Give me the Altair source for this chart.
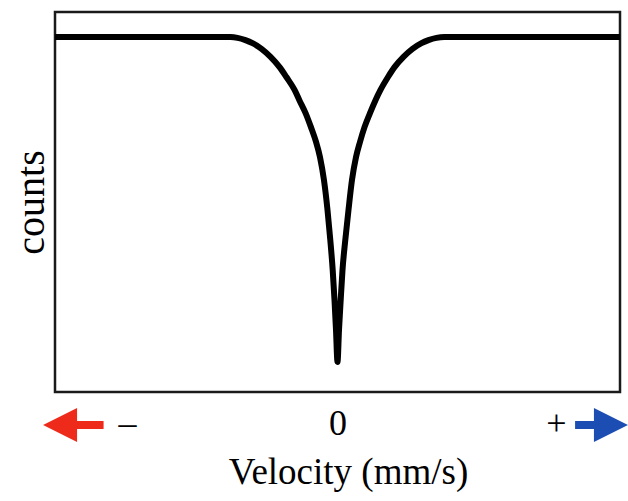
import altair as alt
import pandas as pd

# Curve (velocity in arbitrary units, counts in % of frame height)
velocity = [-10.0, -3.79, -3.54, -3.26, -3.01, -2.69, -2.37, -2.05, -1.81, -1.52,
            -1.35, -1.13, -0.94, -0.76, -0.62, -0.48, -0.354, -0.255, -0.170, -0.106,
            -0.053, 0.0,
            0.053, 0.113, 0.177, 0.276, 0.389, 0.513, 0.655, 0.796, 0.956, 1.150,
            1.345, 1.522, 1.788, 2.018, 2.336, 2.655, 2.973, 3.221, 3.504, 3.788, 10.0]
counts = [93.4, 93.4, 93.2, 92.6, 91.8, 90.3, 88.2, 85.5, 82.9, 79.5,
          76.8, 73.4, 69.7, 65.8, 61.8, 55.8, 47.9, 40.0, 32.1, 24.2,
          16.3, 7.9,
          16.3, 24.2, 32.1, 40.0, 47.9, 55.8, 61.8, 65.8, 69.7, 73.4,
          76.8, 79.5, 82.9, 85.5, 88.2, 90.3, 91.8, 92.6, 93.2, 93.4, 93.4]

# Axis tick labels
tick_values = [-7.45, 0.0, 7.73]
tick_labels = ["–", "0", "+"]

# Direction arrows under the axis
arrow_side = ["neg", "pos"]
arrow_shaft_from = [-9.82, 8.41]
arrow_shaft_to = [-8.28, 9.68]
arrow_head_x = [-9.82, 9.68]
arrow_head_shape = ["M1,-1L-1,0L1,1Z", "M-1,-1L1,0L-1,1Z"]
arrow_level = [-8.68, -8.68]

curve = pd.DataFrame({"v": velocity, "c": counts})
arrows = pd.DataFrame({
    "side": arrow_side, "x1": arrow_shaft_from, "x2": arrow_shaft_to,
    "hx": arrow_head_x, "shape": arrow_head_shape, "c": arrow_level,
})

label_map = "{" + ",".join(f"'{v}':'{t}'" for v, t in zip(tick_values, tick_labels)) + "}"

xscale = alt.Scale(domain=[-10, 10], nice=False, zero=False)
yscale = alt.Scale(domain=[0, 100], nice=False, zero=False)
cscale = alt.Scale(domain=["neg", "pos"], range=["#ee2a1b", "#1c4db3"])
serif = "Liberation Serif"

line = alt.Chart(curve).mark_line(
    color="black", strokeWidth=6, interpolate="monotone", strokeJoin="round"
).encode(
    x=alt.X("v:Q", scale=xscale, axis=alt.Axis(
        title="Velocity (mm/s)", values=tick_values,
        labelExpr=f"({label_map})[toString(datum.value)] || datum.label",
        ticks=False, domain=False, grid=False,
        labelFont=serif, labelFontSize=36, labelColor="black", labelPadding=14,
        titleFont=serif, titleFontSize=37, titleFontWeight="normal",
        titleColor="black", titlePadding=13, labelFlush=False,
        titleX=293, titleAlign="center",
    )),
    y=alt.Y("c:Q", scale=yscale, axis=alt.Axis(
        title="counts", labels=False, ticks=False, domain=False, grid=False,
        titleFont=serif, titleFontSize=40, titleFontWeight="normal",
        titleColor="black", titlePadding=4,
    )),
)

shafts = alt.Chart(arrows).mark_rule(strokeWidth=8).encode(
    x=alt.X("x1:Q", scale=xscale), x2="x2:Q",
    y=alt.Y("c:Q", scale=yscale),
    color=alt.Color("side:N", scale=cscale, legend=None),
)

heads = alt.Chart(arrows).mark_point(filled=True, opacity=1, size=1156, strokeWidth=0).encode(
    x=alt.X("hx:Q", scale=xscale),
    y=alt.Y("c:Q", scale=yscale),
    shape=alt.Shape("shape:N", scale=None, legend=None),
    color=alt.Color("side:N", scale=cscale, legend=None),
)

chart = alt.layer(line, shafts, heads).properties(
    width=565, height=380,
    autosize=alt.AutoSizeParams(type="none"),
    padding={"left": 55, "top": 12, "right": 8, "bottom": 109},
    background="white",
).configure_view(stroke="#1a1a1a", strokeWidth=2.5)

chart.save("out.html", embed_options={"renderer": "svg", "actions": False})
